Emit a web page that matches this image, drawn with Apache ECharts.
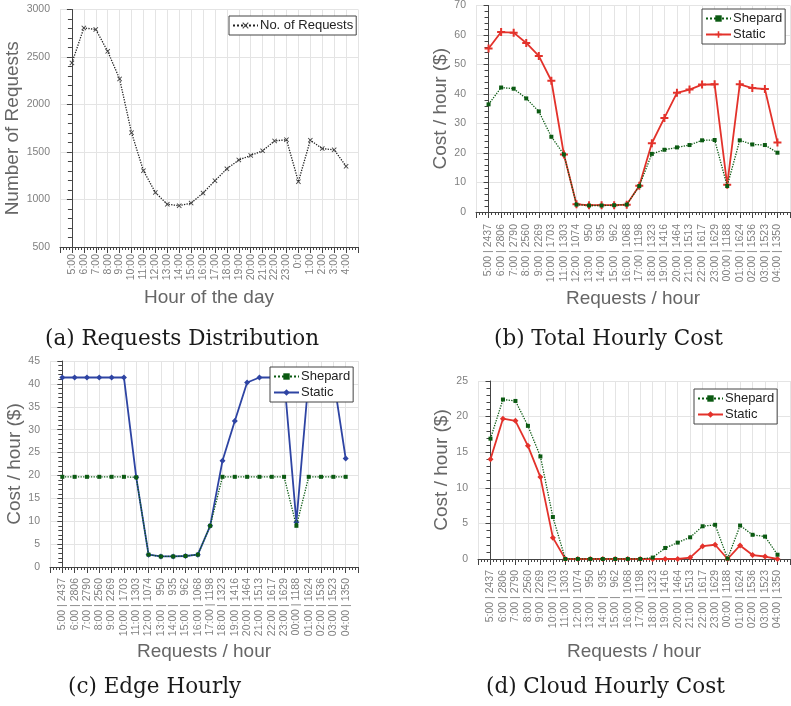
<!DOCTYPE html>
<html>
<head>
<meta charset="utf-8">
<script src="https://cdn.jsdelivr.net/npm/echarts@6/dist/echarts.min.js"></script>
<style>
  html, body { margin: 0; padding: 0; background: #fff; }
  #chart { width: 791px; height: 706px; }
</style>
</head>
<body>
<div id="chart"></div>
<script>
// hour labels
var hoursA = ['5:00', '6:00', '7:00', '8:00', '9:00', '10:00', '11:00', '12:00', '13:00', '14:00', '15:00', '16:00',
	'17:00', '18:00', '19:00', '20:00', '21:00', '22:00', '23:00', '0:0', '1:00', '2:00', '3:00', '4:00'];
var hoursB = ['5:00', '6:00', '7:00', '8:00', '9:00', '10:00', '11:00', '12:00', '13:00', '14:00', '15:00', '16:00',
	'17:00', '18:00', '19:00', '20:00', '21:00', '22:00', '23:00', '00:00', '01:00', '02:00', '03:00', '04:00'];

// (a) requests per hour
var requests = [2437, 2806, 2790, 2560, 2269, 1703, 1303, 1074, 950, 935, 962, 1068,
	1198, 1323, 1416, 1464, 1513, 1617, 1629, 1188, 1624, 1536, 1523, 1350];

// (b) total hourly cost
var totalShepard = [36.5, 42.2, 41.8, 38.5, 34.1, 25.5, 19.5, 2.5, 2.2, 2.2, 2.3, 2.5,
	8.8, 19.7, 21.1, 21.9, 22.7, 24.3, 24.4, 8.8, 24.3, 22.9, 22.7, 20.1];
var totalStatic = [55.4, 61.0, 60.8, 57.3, 52.9, 44.5, 19.5, 2.6, 2.3, 2.3, 2.3, 2.5,
	8.9, 23.3, 31.9, 40.4, 41.5, 43.2, 43.3, 9.2, 43.3, 42.0, 41.7, 23.6];

// (c) edge hourly cost
var edgeShepard = [19.7, 19.7, 19.7, 19.7, 19.7, 19.7, 19.6, 2.7, 2.3, 2.3, 2.4, 2.7,
	9.0, 19.7, 19.7, 19.7, 19.7, 19.7, 19.7, 9.0, 19.7, 19.7, 19.7, 19.7];
var edgeStatic = [41.4, 41.4, 41.4, 41.4, 41.4, 41.4, 19.6, 2.7, 2.3, 2.3, 2.4, 2.7,
	9.0, 23.2, 31.9, 40.3, 41.4, 41.4, 41.4, 9.8, 41.4, 41.4, 41.4, 23.7];

// (d) cloud hourly cost
var cloudShepard = [16.9, 22.4, 22.2, 18.7, 14.4, 5.9, 0, 0, 0, 0, 0, 0,
	0, 0.2, 1.55, 2.3, 3.05, 4.6, 4.8, 0.05, 4.7, 3.4, 3.15, 0.6];
var cloudStatic = [14.0, 19.7, 19.4, 15.9, 11.5, 3.0, 0, 0, 0, 0, 0, 0,
	0, 0, 0, 0, 0.2, 1.8, 2.0, 0, 1.9, 0.55, 0.35, 0];

var labelsB = hoursB.map(function(h, i) {
	var r = String(requests[i]);
	while (r.length < 4) r = '\u2007' + r;
	return h + ' | ' + r;
});

var GRAY = '#666';
var LABEL_GRAY = '#808080';
var GREEN = '#0b5a12';
var SYM_PLUS = 'path://M3,0H5V3H8V5H5V8H3V5H0V3H3Z';
var SYM_X = 'path://M1,0L4,3L7,0L8,1L5,4L8,7L7,8L4,5L1,8L0,7L3,4L0,1Z';

function pairs(arr) {
	return arr.map(function(v, i) { return [i, v]; });
}

function xAxis(gridIndex, labels, name, nameGap, margin) {
	return {
		type: 'value', gridIndex: gridIndex, min: -1, max: 24, interval: 1,
		name: name, nameLocation: 'middle', nameGap: nameGap,
		nameTextStyle: { fontFamily: 'Liberation Sans', fontSize: 19, color: GRAY },
		axisLine: { lineStyle: { color: '#444', width: 1 } },
		axisTick: { show: true, length: 6, lineStyle: { color: '#444' } },
		minorTick: { show: true, splitNumber: 4, length: 3, lineStyle: { color: '#444' } },
		splitLine: { show: true, lineStyle: { color: '#e4e4e4' } },
		axisLabel: {
			rotate: 90, fontFamily: 'Liberation Sans', fontSize: 10.5, color: LABEL_GRAY, margin: margin,
			formatter: function(v) { return (v >= 0 && v < labels.length) ? labels[v] : ''; }
		}
	};
}

function yAxis(gridIndex, min, max, interval, name, nameGap, minorSplit) {
	return {
		type: 'value', gridIndex: gridIndex, min: min, max: max, interval: interval,
		name: name, nameLocation: 'middle', nameGap: nameGap,
		nameTextStyle: { fontFamily: 'Liberation Sans', fontSize: 19, color: GRAY },
		axisLine: { show: true, lineStyle: { color: '#444', width: 1 } },
		axisTick: { show: true, length: 5, lineStyle: { color: '#444' } },
		minorTick: { show: true, splitNumber: minorSplit, length: 4, lineStyle: { color: '#444' } },
		splitLine: { show: true, lineStyle: { color: '#e4e4e4' } },
		axisLabel: {
			fontFamily: 'Liberation Sans', fontSize: 10.5, color: LABEL_GRAY, margin: 10,
			formatter: function(v) { return String(v); }
		}
	};
}

function legend(names, left, top) {
	return {
		data: names, left: left, top: top, orient: 'vertical', z: 10,
		backgroundColor: '#fff', borderColor: '#444', borderWidth: 1,
		padding: [3, 3, 3, 3], itemGap: 3, itemWidth: 25, itemHeight: 8,
		textStyle: { fontFamily: 'Liberation Sans', fontSize: 13, color: '#222', padding: [0, 0, 0, -3] },
		formatter: function(n) { return n.split('_')[0]; }
	};
}

function shepard(name, data, idx) {
	return {
		name: name, type: 'line', xAxisIndex: idx, yAxisIndex: idx, data: pairs(data),
		symbol: 'rect', symbolSize: 4, z: 4,
		lineStyle: { color: GREEN, width: 1.3, type: 'dotted' },
		itemStyle: { color: GREEN }
	};
}

function staticLine(name, data, idx, color, symbol, size) {
	return {
		name: name, type: 'line', xAxisIndex: idx, yAxisIndex: idx, data: pairs(data),
		symbol: symbol, symbolSize: size, z: 3,
		lineStyle: { color: color, width: 1.8 },
		itemStyle: { color: color }
	};
}

var captionStyle = { fontFamily: 'DejaVu Serif', fontSize: 21.5, fontWeight: 'normal', color: '#1a1a1a' };

var myChart = echarts.init(document.getElementById('chart'));
var option = {
	animation: false,
	backgroundColor: '#fff',
	title: [
		{ text: '(a) Requests Distribution', left: 45, top: 328, padding: 0, textStyle: captionStyle },
		{ text: '(b) Total Hourly Cost', left: 494, top: 328, padding: 0, textStyle: captionStyle },
		{ text: '(c) Edge Hourly', left: 68, top: 676, padding: 0, textStyle: captionStyle },
		{ text: '(d) Cloud Hourly Cost', left: 486, top: 676, padding: 0, textStyle: captionStyle }
	],
	grid: [
		{ left: 60, top: 9.5, width: 298, height: 237.5 },
		{ left: 476, top: 2.5, width: 314, height: 209.5 },
		{ left: 50, top: 361, width: 308, height: 206 },
		{ left: 478, top: 381, width: 312, height: 178 }
	],
	xAxis: [
		xAxis(0, hoursA, 'Hour of the day', 41, 7),
		xAxis(1, labelsB, 'Requests / hour', 77, 12),
		xAxis(2, labelsB, 'Requests / hour', 75, 11),
		xAxis(3, labelsB, 'Requests / hour', 83, 11)
	],
	yAxis: [
		yAxis(0, 500, 3000, 500, 'Number of Requests', 38, 5),
		yAxis(1, 0, 70, 10, 'Cost / hour ($)', 25, 5),
		yAxis(2, 0, 45, 5, 'Cost / hour ($)', 26, 5),
		yAxis(3, 0, 25, 5, 'Cost / hour ($)', 27, 5)
	],
	legend: [
		legend(['No. of Requests'], 229, 16),
		legend(['Shepard_b', 'Static_b'], 702, 9),
		legend(['Shepard_c', 'Static_c'], 270, 367),
		legend(['Shepard_d', 'Static_d'], 694, 389)
	],
	series: [
		{
			name: 'No. of Requests', type: 'line', xAxisIndex: 0, yAxisIndex: 0, data: pairs(requests),
			symbol: SYM_X, symbolSize: 5,
			lineStyle: { color: '#222', width: 1.3, type: 'dotted' },
			itemStyle: { color: '#444' }
		},
		shepard('Shepard_b', totalShepard, 1),
		staticLine('Static_b', totalStatic, 1, '#e3322b', SYM_PLUS, 8),
		shepard('Shepard_c', edgeShepard, 2),
		staticLine('Static_c', edgeStatic, 2, '#2e44a3', 'diamond', 6),
		shepard('Shepard_d', cloudShepard, 3),
		staticLine('Static_d', cloudStatic, 3, '#e3322b', 'diamond', 6)
	]
};
myChart.setOption(option);
</script>
</body>
</html>
